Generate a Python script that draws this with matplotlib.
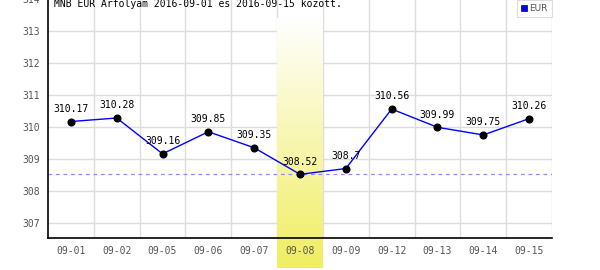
import matplotlib

matplotlib.use("Agg")
import matplotlib.pyplot as plt
import numpy as np
from matplotlib.lines import Line2D

# data
dates = ["09-01", "09-02", "09-05", "09-06", "09-07", "09-08",
         "09-09", "09-12", "09-13", "09-14", "09-15"]
eur_rates = [310.17, 310.28, 309.16, 309.85, 309.35, 308.52,
             308.7, 310.56, 309.99, 309.75, 310.26]
highlight_date = "09-08"
y_ticks = [307, 308, 309, 310, 311, 312, 313, 314]
title = "MNB EUR Arfolyam 2016-09-01 es 2016-09-15 kozott."
series_name = "EUR"

MONO = "DejaVu Sans Mono"
GRAY = "#555555"

fig = plt.figure(figsize=(6, 2.7), dpi=100)
ax = fig.add_axes([0.08, 32 / 270, 0.84, 240 / 270])

n = len(dates)
x = np.arange(n)
ax.set_xlim(-0.5, n - 0.5)
ax.set_ylim(306.53, 314.03)

# grid: vertical lines between categories, horizontal at ticks
for b in np.arange(0.5, n - 0.5, 1.0):
    ax.axvline(b, color="#dddddd", lw=1, zorder=0)
for t in y_ticks:
    ax.axhline(t, color="#dddddd", lw=1, zorder=0)
ax.axvline(n - 0.5, color="#dddddd", lw=1, zorder=0)

# highlighted day: white-to-yellow gradient, reaching below the axis
hi = dates.index(highlight_date)
grad = np.linspace(0, 1, 256).reshape(-1, 1)
top_c = np.array([1.0, 1.0, 1.0])
bot_c = np.array([240, 238, 96]) / 255
img = top_c + (bot_c - top_c) * grad[..., None]
ax.imshow(img, extent=(hi - 0.5, hi + 0.5, 305.59, 313.4), aspect="auto",
          origin="upper", zorder=0.5, clip_on=False)

ax.axhline(min(eur_rates), color="#8c8cff", lw=0.9, ls=(0, (3, 3)), zorder=1)

ax.plot(x, eur_rates, color="blue", lw=1, zorder=2)
ax.plot(x, eur_rates, "o", color="black", ms=4.8, zorder=3)
for xi, v in zip(x, eur_rates):
    ax.annotate(f"{v:g}", (xi, v), xytext=(0, 5.5), textcoords="offset points",
                ha="center", va="bottom", fontsize=7, family=MONO,
                color="black", zorder=4)

ax.text(0.012, 0.995, title, transform=ax.transAxes, ha="left", va="top",
        fontsize=7, family=MONO, color="black")

ax.set_xticks(x)
ax.set_xticklabels(dates)
ax.set_yticks(y_ticks)
ax.tick_params(length=0, labelsize=7, labelcolor=GRAY, pad=6)
for lab in ax.get_xticklabels() + ax.get_yticklabels():
    lab.set_family(MONO)

for side in ("top", "right"):
    ax.spines[side].set_visible(False)
for side in ("left", "bottom"):
    ax.spines[side].set_color("black")
    ax.spines[side].set_linewidth(1.2)

handle = Line2D([], [], marker="s", color="blue", ls="", ms=4,
                markeredgecolor="#000066", markeredgewidth=0.5)
leg = ax.legend([handle], [series_name], loc="upper right",
                bbox_to_anchor=(1.0, 1.0 - 2 / 240), fontsize=6.5,
                handlelength=0.6, handletextpad=0.3, borderpad=0.45,
                borderaxespad=0, fancybox=False, framealpha=1)
leg.get_frame().set_edgecolor("#dddddd")
leg.get_frame().set_linewidth(0.8)
for t in leg.get_texts():
    t.set_color(GRAY)

fig.savefig("out.png", dpi=100)
